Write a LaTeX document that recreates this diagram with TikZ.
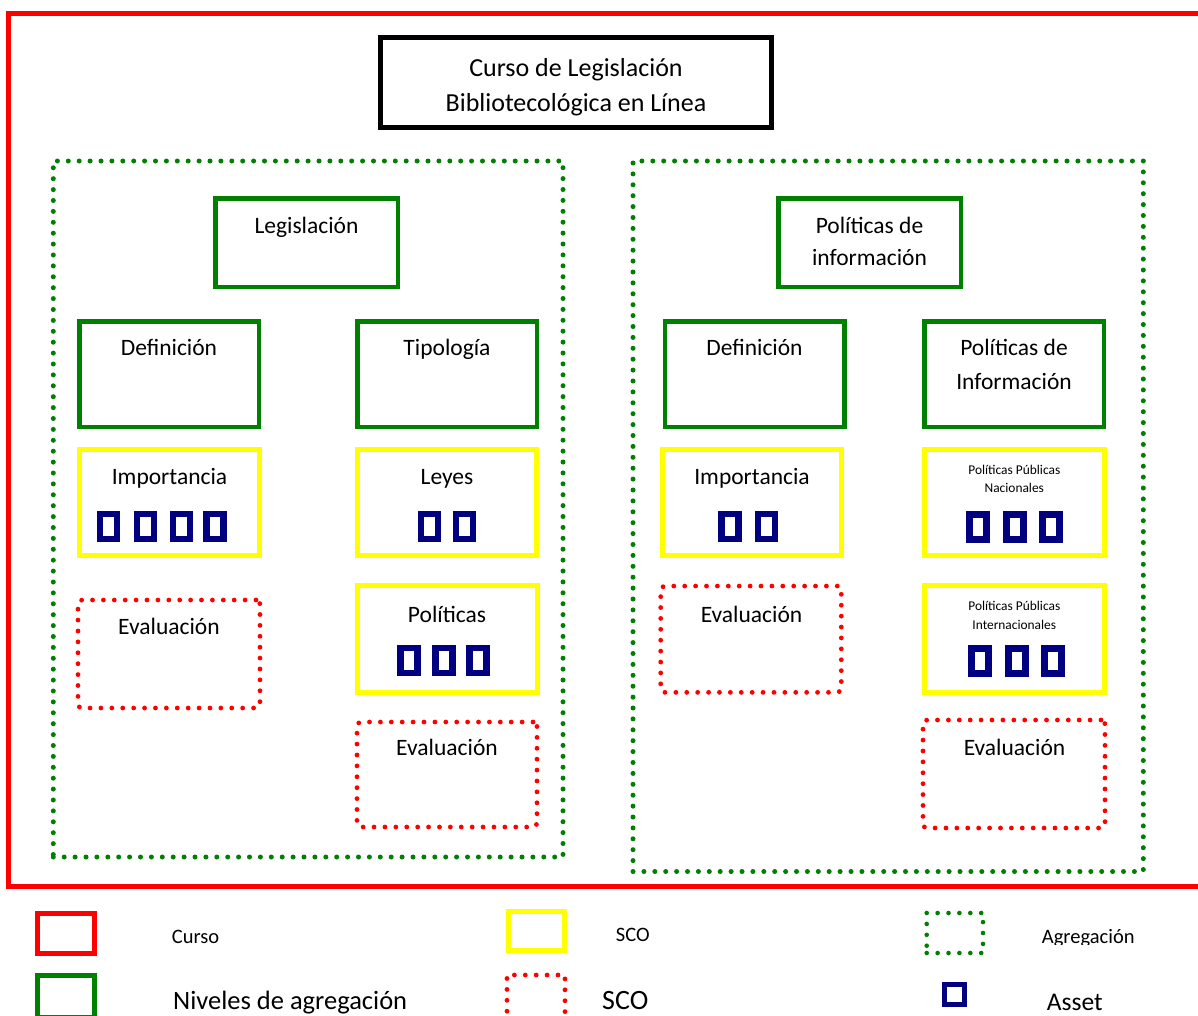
\documentclass[tikz,border=0pt]{standalone}
\usepackage{fontspec}
\setmainfont{Carlito}
\definecolor{crsred}{HTML}{FF0000}
\definecolor{lvlgreen}{HTML}{008000}
\definecolor{scoyellow}{HTML}{FFFF00}
\definecolor{assetblue}{HTML}{000080}
\tikzset{
  box/.style={rectangle, inner sep=0pt, outer sep=0pt},
  coursebox/.style={box, draw=crsred, line width=5pt},
  titlebox/.style={box, draw=black, line width=5pt},
  levelbox/.style={box, draw=lvlgreen, line width=4.5pt},
  scobox/.style={box, draw=scoyellow, line width=5pt},
  evalbox/.style={box, draw=crsred, line width=4.8pt, line cap=round,
    dash pattern=on 0pt off 10.9pt, rounded corners=4pt},
  aggbox/.style={box, draw=lvlgreen, line width=5pt, line cap=round,
    dash pattern=on 0pt off 10.9pt},
  asset/.style={box, draw=assetblue, line width=6.5pt,
    minimum width=17pt, minimum height=25pt},
  txt/.style={anchor=base, inner sep=0pt, font=\fontsize{23.5}{28}\selectfont},
  ttl/.style={anchor=base, inner sep=0pt, font=\fontsize{26}{31}\selectfont},
  small/.style={anchor=base, inner sep=0pt, font=\fontsize{13.4}{16}\selectfont},
  legS/.style={anchor=base west, inner sep=0pt, font=\fontsize{20.5}{24}\selectfont},
}
\begin{document}
\begin{tikzpicture}[x=1pt,y=-1pt]
\useasboundingbox (0,0) rectangle (1198,1015);
\clip (0,0) rectangle (1198,1015);

% course frame
\node[coursebox, minimum width=1204pt, minimum height=873pt] (course) at (610,450) {};

% course title
\node[titlebox, minimum width=391pt, minimum height=90pt] (title) at (576,82.5) {};
\node[ttl] (title1) at (576,76.5) {Curso de Legislación};
\begin{scope}
  \clip (400,88) rectangle (760,115.5);
  \node[ttl] (title2) at (576,111.5) {Bibliotecológica en Línea};
\end{scope}

% aggregations
\node[aggbox, minimum width=509.7pt, minimum height=696pt] (aggL) at (308.15,509) {};
\node[aggbox, minimum width=510.3pt, minimum height=710.5pt] (aggR) at (888.15,516.25) {};

% aggregation levels
\node[levelbox, minimum width=182.5pt, minimum height=88.5pt] (legis) at (306.5,242.5) {};
\node[txt] (legisT) at (306.5,233) {Legislación};
\node[levelbox, minimum width=182.5pt, minimum height=88.5pt] (polinf) at (869.5,242.5) {};
\node[txt] (polinfT1) at (869.5,233) {Políticas de};
\node[txt] (polinfT2) at (869.5,265) {información};

\node[levelbox, minimum width=179.5pt, minimum height=105.5pt] (defL) at (169,374) {};
\node[txt] (defLT) at (169,355) {Definición};
\node[levelbox, minimum width=179.5pt, minimum height=105.5pt] (tipo) at (447,374) {};
\node[txt] (tipoT) at (447,355) {Tipología};
\node[levelbox, minimum width=179.5pt, minimum height=105.5pt] (defR) at (754.5,374) {};
\node[txt] (defRT) at (754.5,355) {Definición};
\node[levelbox, minimum width=179.5pt, minimum height=105.5pt] (polI) at (1014,374) {};
\node[txt] (polIT1) at (1014,355) {Políticas de};
\node[txt] (polIT2) at (1014,389) {Información};

% SCOs
\node[scobox, minimum width=179.4pt, minimum height=106pt] (impL) at (169.5,502.8) {};
\node[txt] (impLT) at (169.5,484) {Importancia};
\foreach \x [count=\i] in {108.5,145.5,181.5,215}
  \node[asset] (impL-\i) at (\x,526.5) {};

\node[scobox, minimum width=179.4pt, minimum height=106pt] (leyes) at (447,502.8) {};
\node[txt] (leyesT) at (447,484) {Leyes};
\foreach \x [count=\i] in {429.5,464.5}
  \node[asset] (leyes-\i) at (\x,526.5) {};

\node[scobox, minimum width=179.4pt, minimum height=106pt] (impR) at (752,502.8) {};
\node[txt] (impRT) at (752,484) {Importancia};
\foreach \x [count=\i] in {730,766.5}
  \node[asset] (impR-\i) at (\x,526.5) {};

\node[scobox, minimum width=179.5pt, minimum height=106.5pt] (ppn) at (1014.3,502.5) {};
\node[small] (ppnT1) at (1014.3,474) {Políticas Públicas};
\node[small] (ppnT2) at (1014.3,492) {Nacionales};
\foreach \x [count=\i] in {978,1015,1051}
  \node[asset] (ppn-\i) at (\x,527) {};

\node[scobox, minimum width=179.5pt, minimum height=106.5pt] (pol) at (447.25,639.2) {};
\node[txt] (polT) at (447,622) {Políticas};
\foreach \x [count=\i] in {409,444,478}
  \node[asset] (pol-\i) at (\x,660.5) {};

\node[scobox, minimum width=179.5pt, minimum height=106.5pt] (ppi) at (1014.3,639.2) {};
\node[small] (ppiT1) at (1014.3,610.7) {Políticas Públicas};
\node[small] (ppiT2) at (1014.3,629) {Internacionales};
\foreach \x [count=\i] in {980,1017,1053}
  \node[asset] (ppi-\i) at (\x,661) {};

% evaluations
\node[evalbox, minimum width=182pt, minimum height=108pt] (evL) at (169,654) {};
\node[txt] (evLT) at (169,634) {Evaluación};
\node[evalbox, minimum width=180pt, minimum height=105pt] (evT) at (447,774.5) {};
\node[txt] (evTT) at (447,755.5) {Evaluación};
\node[evalbox, minimum width=180.6pt, minimum height=106.3pt] (evR) at (751,639.2) {};
\node[txt] (evRT) at (751.5,622) {Evaluación};
\node[evalbox, minimum width=182pt, minimum height=108pt] (evP) at (1014,774) {};
\node[txt] (evPT) at (1014.5,755.5) {Evaluación};

% legend
\node[coursebox, minimum width=57pt, minimum height=40pt] (lgCourse) at (66,933.5) {};
\node[legS] (lgCourseT) at (171.7,943) {Curso};
\node[levelbox, line width=5pt, minimum width=57pt, minimum height=42pt] (lgLevel) at (66,996.5) {};
\node[anchor=base west, inner sep=0pt, font=\fontsize{26.5}{31}\selectfont] (lgLevelT) at (173,1009) {Niveles de agregación};

\node[scobox, minimum width=56pt, minimum height=39pt] (lgSco) at (536.2,931) {};
\node[legS] (lgScoT) at (615.7,941) {SCO};
\node[evalbox, rounded corners=0pt, minimum width=58pt, minimum height=44pt] (lgEval) at (536,997) {};
\node[anchor=base west, inner sep=0pt, font=\fontsize{28}{34}\selectfont] (lgEvalT) at (602,1009) {SCO};

\node[aggbox, line width=4.6pt, minimum width=56.3pt, minimum height=40pt] (lgAgg) at (954.85,933) {};
\begin{scope}
  \clip (1030,900) rectangle (1160,944.5);
  \node[legS] (lgAggT) at (1041.7,943.3) {Agregación};
\end{scope}
\node[asset, line width=5pt, minimum width=20pt, minimum height=20pt] (lgAsset) at (954,994.5) {};
\node[anchor=base west, inner sep=0pt, font=\fontsize{25.5}{30}\selectfont] (lgAssetT) at (1046.7,1010.5) {Asset};
\end{tikzpicture}
\end{document}
